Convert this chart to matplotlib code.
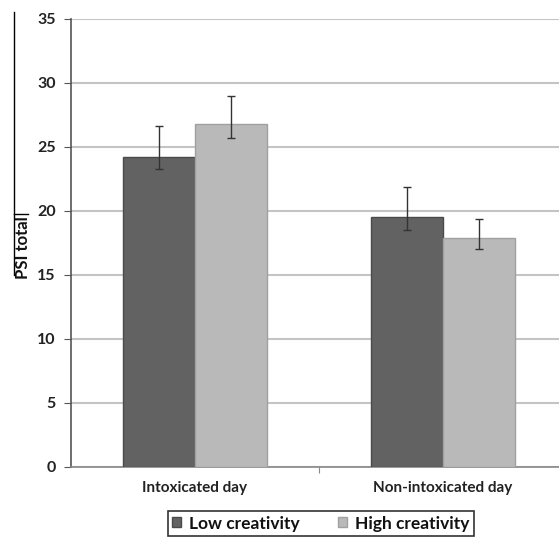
import numpy as np
import matplotlib
matplotlib.use("Agg")
import matplotlib.pyplot as plt
from matplotlib.lines import Line2D

categories = ["Intoxicated day", "Non-intoxicated day"]
series_names = ["Low creativity", "High creativity"]
low_vals = [24.2, 19.5]
low_err_up = [2.4, 2.4]
low_err_down = [0.9, 1.0]
high_vals = [26.8, 17.9]
high_err_up = [2.2, 1.5]
high_err_down = [1.1, 0.9]
yticks = [0, 5, 10, 15, 20, 25, 30, 35]

plt.rcParams['font.family'] = ['Lato', 'DejaVu Sans']

fig = plt.figure(figsize=(5.59, 5.38), dpi=100)
ax = fig.add_axes([0.127, 0.132, 0.873, 0.833])

x = np.arange(len(categories))
w = 0.29
ax.bar(x - w / 2, low_vals, w, color="#626262", edgecolor="#4a4a4a",
       linewidth=1.0, label=series_names[0], zorder=3)
ax.bar(x + w / 2, high_vals, w, color="#b9b9b9", edgecolor="#a0a0a0",
       linewidth=1.0, label=series_names[1], zorder=3)
ax.errorbar(x - w / 2, low_vals, yerr=[low_err_down, low_err_up], fmt="none",
            ecolor="#333333", elinewidth=1.0, capsize=3, capthick=1.0, zorder=4)
ax.errorbar(x + w / 2, high_vals, yerr=[high_err_down, high_err_up], fmt="none",
            ecolor="#333333", elinewidth=1.0, capsize=3, capthick=1.0, zorder=4)

ax.set_ylim(0, 35)
ax.set_xlim(-0.5, 1.468)
ax.set_yticks(yticks)
ax.set_xticks([0.5])
ax.set_xticklabels([""])
ax.tick_params(axis="x", length=4, direction="out", color="#888888")
ax.tick_params(axis="y", length=5, direction="out", color="#555555",
               labelsize=11.5, labelcolor="#222222", pad=6)
for lab in ax.get_yticklabels():
    lab.set_fontweight("bold")
for i, c in enumerate(categories):
    ax.text(x[i], -1.1, c, ha="center", va="top", fontsize=11,
            color="#222222", fontweight="bold")

ax.yaxis.grid(True, color="#c4c4c4", linewidth=1.5, zorder=0)
ax.set_axisbelow(True)
for s in ["top", "right"]:
    ax.spines[s].set_visible(False)
ax.spines["left"].set_color("#555555")
ax.spines["bottom"].set_color("#888888")
ax.spines["left"].set_linewidth(1.2)
ax.spines["bottom"].set_linewidth(1.2)

ax.set_ylabel("PSI total", fontsize=12, color="#111111", fontweight="bold")
ax.yaxis.set_label_coords(-0.082, 0.49)

leg = ax.legend(loc="upper center", bbox_to_anchor=(0.574, 0.066),
                bbox_transform=fig.transFigure, ncol=2, frameon=True,
                fancybox=False, edgecolor="#000000",
                handlelength=0.5, handleheight=0.5, columnspacing=2.2,
                handletextpad=0.5, borderpad=0.25,
                prop={"weight": "bold", "size": 12.5})
leg.get_frame().set_linewidth(1.2)
for t in leg.get_texts():
    t.set_color("#111111")

fig.add_artist(Line2D([14 / 559, 14 / 559], [1 - 12 / 538, 1 - 275 / 538],
                      color="#000000", linewidth=1.0, transform=fig.transFigure))
fig.add_artist(Line2D([14 / 559, 28 / 559], [1 - 214 / 538, 1 - 214 / 538],
                      color="#000000", linewidth=1.0, transform=fig.transFigure))

fig.savefig("out.png", dpi=100)
